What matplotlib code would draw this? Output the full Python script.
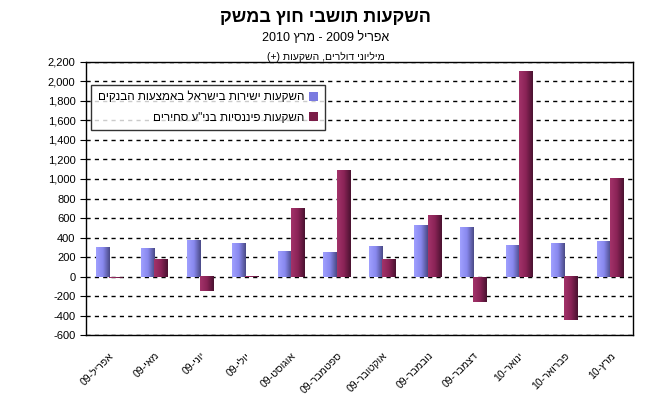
import re
import numpy as np
import matplotlib
matplotlib.use("Agg")
import matplotlib.pyplot as plt
from matplotlib.colors import LinearSegmentedColormap
from matplotlib.ticker import FuncFormatter, MultipleLocator
from matplotlib.patches import Patch

plt.rcParams['font.family'] = ['Liberation Sans', 'DejaVu Sans']

months = ["אפריל-09", "מאי-09", "יוני-09", "יולי-09", "אוגוסט-09", "ספטמבר-09",
          "אוקטובר-09", "נובמבר-09", "דצמבר-09", "ינואר-10", "פברואר-10", "מרץ-10"]
direct = [304, 297, 376, 345, 259, 252, 317, 532, 504, 324, 342, 366]
financial = [-10, 179, -149, 10, 700, 1090, 182, 632, -256, 2110, -446, 1008]

title = "השקעות תושבי חוץ במשק"
subtitle = "אפריל 2009 - מרץ 2010"
units = "מיליוני דולרים, השקעות (+)"
series_names = ["השקעות ישירות בישראל באמצעות הבנקים",
                'השקעות פיננסיות בני"ע סחירים']


def vis(s):
    # matplotlib has no bidi: turn logical Hebrew into visual order
    r = s[::-1]
    r = re.sub(r"\d+", lambda m: m.group(0)[::-1], r)
    return r.translate(str.maketrans("()", ")("))


fig = plt.figure(figsize=(6.51, 3.99), dpi=100)
ax = fig.add_axes([0.132, 0.160, 0.840, 0.685])

x = np.arange(len(months))
w = 0.29
blue_cm = LinearSegmentedColormap.from_list("b", ["#a0a0ff", "#8888ee", "#4a4a86"])
red_cm = LinearSegmentedColormap.from_list("r", ["#a3336a", "#8a2356", "#4a1230"])
grad = np.linspace(0, 1, 64).reshape(1, -1)

for vals, off, cm in [(direct, -w / 2, blue_cm), (financial, w / 2, red_cm)]:
    bars = ax.bar(x + off, vals, width=w, color="none", edgecolor="none", zorder=3)
    for b in bars:
        x0, y0 = b.get_x(), b.get_y()
        bw, bh = b.get_width(), b.get_height()
        ax.imshow(grad, cmap=cm, aspect="auto", zorder=3,
                  extent=[x0, x0 + bw, min(y0, y0 + bh), max(y0, y0 + bh)])

ax.set_xlim(-0.5, len(months) - 0.5)
ax.set_ylim(-600, 2200)
ax.yaxis.set_major_locator(MultipleLocator(200))
ax.yaxis.set_major_formatter(FuncFormatter(lambda v, p: f"{int(v):,}"))
ax.grid(axis="y", color="black", linestyle=(0, (3, 3)), linewidth=1, zorder=1)
ax.set_axisbelow(True)

ax.set_xticks(x)
ax.set_xticklabels([vis(m) for m in months], rotation=45, ha="right", va="top",
                   rotation_mode="anchor", fontsize=7.5)
ax.tick_params(axis="x", length=0, pad=11)
ax.tick_params(axis="y", direction="out", length=4, labelsize=8, color="black")
for s in ax.spines.values():
    s.set_color("black")
    s.set_linewidth(1)

fig.text(0.5, 0.955, vis(title), ha="center", va="center", fontsize=13, fontweight="bold")
fig.text(0.5, 0.905, vis(subtitle), ha="center", va="center", fontsize=9)
fig.text(0.5, 0.857, vis(units), ha="center", va="center", fontsize=7.5)

handles = [Patch(facecolor="#7a7ae0"), Patch(facecolor="#7a1d48")]
leg = ax.legend(handles, [vis(n) for n in series_names], loc="upper left",
                bbox_to_anchor=(0.01, 0.915), markerfirst=False, fancybox=False,
                frameon=True, edgecolor="black", fontsize=8.4, handlelength=0.8,
                handleheight=0.8, handletextpad=0.4, borderpad=0.55, labelspacing=0.7,
                borderaxespad=0)
leg.get_frame().set_linewidth(1)
leg.set_zorder(5)

fig.savefig("out.png", dpi=100)
